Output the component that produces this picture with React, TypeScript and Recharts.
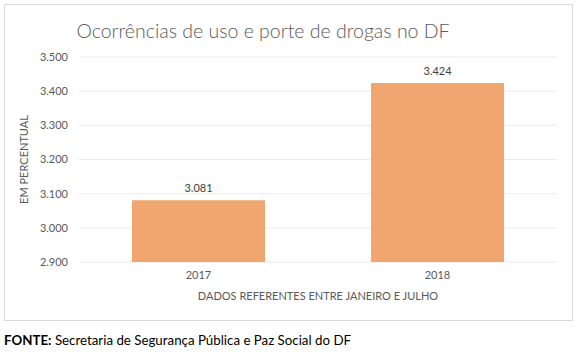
import React from 'react';
import { BarChart, Bar, XAxis, YAxis, CartesianGrid, LabelList } from 'recharts';

const years = ['2017', '2018'];
const occurrences = [3081, 3424];
const yTicks = [2900, 3000, 3100, 3200, 3300, 3400, 3500];

const data = years.map((year, i) => ({ year, value: occurrences[i], pos: i + 0.5 }));

const FONT = "Lato, 'Open Sans', sans-serif";
// 3081 -> "3.081"
const fmtThousands = (v: number) => {
  const s = String(v);
  return s.slice(0, s.length - 3) + '.' + s.slice(-3);
};

export default function App() {
  return (
    <div style={{ position: 'absolute', left: 0, top: 0, width: 578, height: 358, background: '#fff', fontFamily: FONT }}>
      <div style={{ position: 'absolute', left: 4, top: 4, width: 567, height: 315, border: '1px solid #d9d9d9' }}>
        <div style={{ position: 'absolute', left: 0, top: 14, width: 516, textAlign: 'center', fontSize: 19.5, color: '#595959', fontWeight: 300, whiteSpace: 'nowrap' }}>
          Ocorrências de uso e porte de drogas no DF
        </div>
        <div style={{ position: 'absolute', left: 0, top: 0 }}>
          <BarChart width={567} height={315} data={data} margin={{ top: 52, right: 15, bottom: 13, left: 0 }} style={{ fontFamily: FONT }}>
            <CartesianGrid vertical={false} stroke="#ebebeb" />
            <XAxis xAxisId="edges" type="number" dataKey="pos" domain={[0, 2]} ticks={[0, 1, 2]} height={0}
              tick={false} tickSize={4} stroke="#bfbfbf" axisLine={{ stroke: '#bfbfbf', strokeWidth: 1.5 }} tickLine={{ stroke: '#bfbfbf', strokeWidth: 1.5 }} />
            <XAxis dataKey="year" height={45} axisLine={false} tickLine={false} tickMargin={3}
              tick={{ fontSize: 11, fill: '#595959' }}
              label={{ value: 'DADOS REFERENTES ENTRE JANEIRO E JULHO', position: 'insideBottom', offset: 7, fontSize: 11, fill: '#595959' }} />
            <YAxis domain={[2900, 3500]} ticks={yTicks} width={74} axisLine={false} tickLine={false} tickMargin={5}
              tickFormatter={fmtThousands} tick={{ fontSize: 11, fill: '#595959' }}
              label={{ value: 'EM PERCENTUAL', angle: -90, position: 'insideLeft', offset: 19, fontSize: 11, fill: '#595959', style: { textAnchor: 'middle' } }} />
            <Bar dataKey="value" fill="#F1A66F" barSize={133} isAnimationActive={false}>
              <LabelList dataKey="value" position="top" offset={8} formatter={(v: number) => fmtThousands(v)} style={{ fontSize: 11, fill: '#404040' }} />
            </Bar>
          </BarChart>
        </div>
      </div>
      <div style={{ position: 'absolute', left: 4, top: 332, fontSize: 13.3, color: '#000', whiteSpace: 'nowrap' }}>
        <b>FONTE:</b> Secretaria de Segurança Pública e Paz Social do DF
      </div>
    </div>
  );
}
